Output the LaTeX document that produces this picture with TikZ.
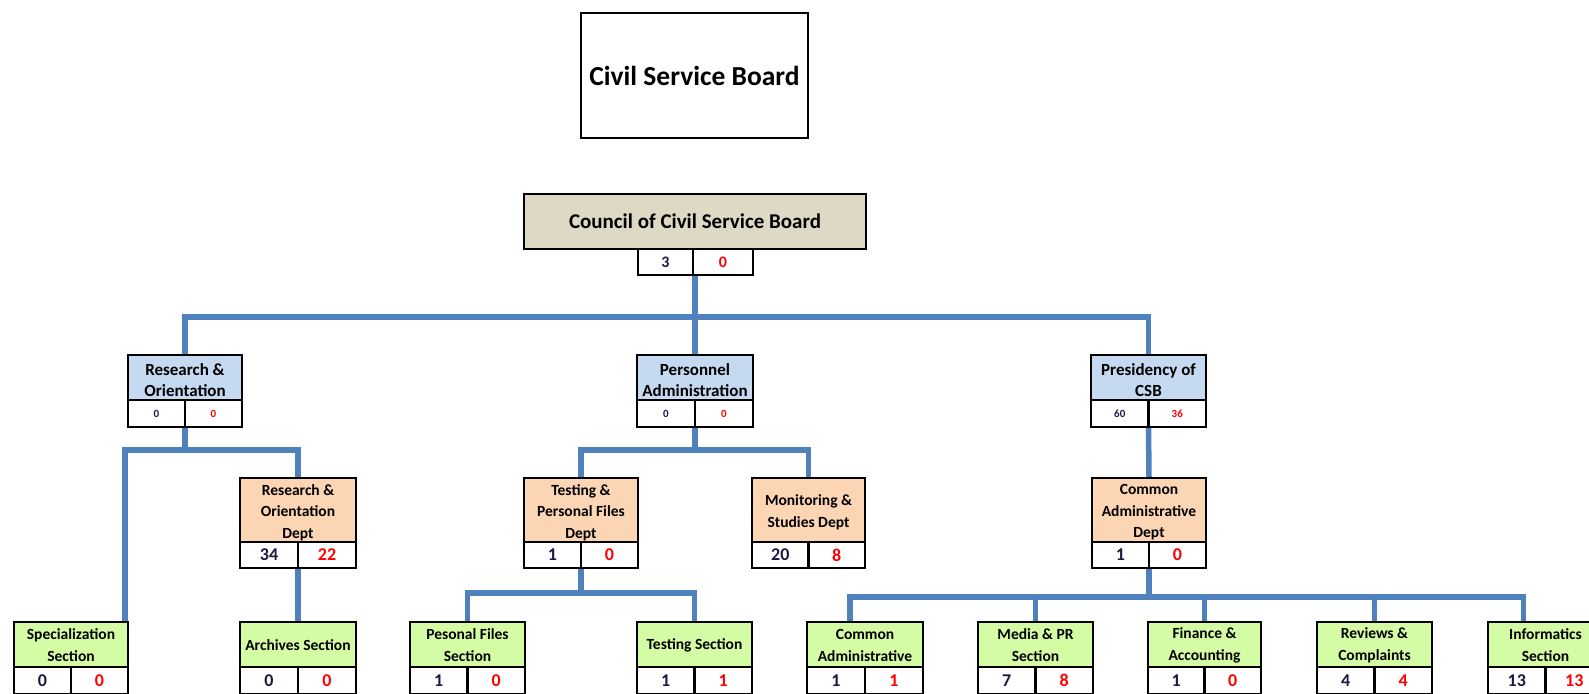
\documentclass[tikz,border=0pt]{standalone}
\usepackage{fontspec}
\setmainfont{Carlito}
\usetikzlibrary{backgrounds}

\definecolor{linkblue}{HTML}{4F81BD}
\definecolor{boardtan}{HTML}{DDD9C4}
\definecolor{unitblue}{HTML}{C5D9F1}
\definecolor{deptorange}{HTML}{FCD5B4}
\definecolor{secgreen}{HTML}{D4FCA4}
\definecolor{numblue}{HTML}{1A1A45}
\definecolor{numred}{HTML}{FF0000}

\tikzset{
  x=1pt, y=-1pt,
  frame/.style={draw=black, line width=2.6pt, rectangle, inner sep=0pt, outer sep=0pt},
  conn/.style={draw=linkblue, line width=5.5pt},
  % one style family per level of the chart
  Abox/.style={frame, fill=unitblue},
  Atxt/.style={align=center, inner sep=0pt, yshift=-2.5pt, font=\bfseries\fontsize{17}{21}\selectfont},
  Acell/.style={frame, fill=white, minimum height=27, font=\bfseries\fontsize{11}{12}\selectfont},
  Bbox/.style={frame, fill=deptorange},
  Btxt/.style={align=center, inner sep=0pt, yshift=-2.5pt, font=\bfseries\fontsize{15.5}{21.5}\selectfont},
  Bcell/.style={frame, fill=white, minimum height=26, font=\bfseries\fontsize{18}{20}\selectfont},
  Cbox/.style={frame, fill=secgreen},
  Ctxt/.style={align=center, inner sep=0pt, yshift=-1pt, font=\bfseries\fontsize{15.5}{22}\selectfont},
  Ccell/.style={frame, fill=white, minimum height=27, font=\bfseries\fontsize{18}{20}\selectfont},
}

% #1 level, #2 name, #3 left x, #4 top y, #5 width, #6 text height, #7 label, #8 left number, #9 right number
\newcommand\orgunit[9]{%
  \node[#1box, minimum width=#5, minimum height=#6, anchor=north west] (#2) at (#3,#4) {};
  \node[#1txt] (#2-t) at (#2.center) {#7};
  \node[#1cell, minimum width=#5/2, anchor=north west] (#2-a) at (#2.south west) {\color{numblue}#8};
  \node[#1cell, minimum width=#5/2, anchor=north east] (#2-b) at (#2.south east) {\color{numred}#9};
}

\begin{document}
\begin{tikzpicture}
\path[use as bounding box, clip] (0,0) rectangle (1589,693);

% title box
\node[frame, fill=white, minimum width=227, minimum height=125, anchor=north west,
      font=\bfseries\fontsize{27.5}{30}\selectfont] (csb) at (581,13) {Civil Service Board};

% council with its own narrow number row
\node[frame, fill=boardtan, minimum width=342, minimum height=55, anchor=north west,
      font=\bfseries\fontsize{21}{24}\selectfont] (council) at (524,194) {Council of Civil Service Board};
\node[frame, fill=white, minimum width=55, minimum height=26, anchor=north west,
      font=\bfseries\fontsize{16}{18}\selectfont] (council-a) at (638,249) {\color{numblue}3};
\node[frame, fill=white, minimum width=60, minimum height=26, anchor=north west,
      font=\bfseries\fontsize{16}{18}\selectfont] (council-b) at (693,249) {\color{numred}0};

% top-level units
\orgunit{A}{ro}{128}{355}{114}{45}{Research \&\\Orientation}{0}{0}
\orgunit{A}{pa}{637}{355}{116}{45}{Personnel\\Administration}{0}{0}
\orgunit{A}{pres}{1091}{355}{115}{45}{Presidency of\\CSB}{60}{36}

% departments
\orgunit{B}{rod}{240}{478}{116}{64}{Research \&\\Orientation\\Dept}{34}{22}
\orgunit{B}{tpd}{524}{478}{114}{64}{Testing \&\\Personal Files\\Dept}{1}{0}
\orgunit{B}{msd}{752}{478}{113}{64}{Monitoring \&\\Studies Dept}{20}{8}
\orgunit{B}{cad}{1092}{478}{114}{64}{Common\\Administrative\\Dept}{1}{0}

% sections
\orgunit{C}{spec}{14}{622}{114}{45}{Specialization\\Section}{0}{0}
\orgunit{C}{arch}{240}{622}{116}{45}{Archives Section}{0}{0}
\orgunit{C}{pfs}{410}{622}{115}{45}{Pesonal Files\\Section}{1}{0}
\orgunit{C}{ts}{637}{622}{115}{45}{Testing Section}{1}{1}
\orgunit{C}{cas}{807}{622}{116}{45}{Common\\Administrative}{1}{1}
\orgunit{C}{mpr}{978}{622}{115}{45}{Media \& PR\\Section}{7}{8}
\orgunit{C}{fin}{1148}{622}{113}{45}{Finance \&\\Accounting}{1}{0}
\orgunit{C}{rev}{1317}{622}{115}{45}{Reviews \&\\Complaints}{4}{4}
\orgunit{C}{inf}{1488}{622}{115}{45}{Informatics\\Section}{13}{13}

% junction points of the connector bars
\coordinate (j-top) at (697,317);
\coordinate (j-ro) at (185,450);
\coordinate (j-pa) at (697,450);
\coordinate (j-tpd) at (581,593);
\coordinate (j-cad) at (1149,597);

\begin{scope}[on background layer]
  \fill[white] (0,0) rectangle (1589,693);

  \draw[conn] (pa.north |- council-a.south) -- (pa.north);
  \draw[conn] (ro.north) |- (j-top) -| (pres.north);

  \draw[conn] (ro-a.south east) -- (j-ro);
  \draw[conn] ([xshift=-3pt]spec.north east) |- (j-ro) -| (rod.north);
  \draw[conn] (rod-a.south east) -- (arch.north);

  \draw[conn] (pa-a.south east) -- (pa-a.south east |- j-pa);
  \draw[conn] (tpd.north) |- (j-pa) -| (msd.north);

  \draw[conn] (pres-a.south east) -- (cad.north);

  \draw[conn] (tpd-a.south east) -- (j-tpd);
  \draw[conn] (pfs.north) |- (j-tpd) -| (ts.north);

  \draw[conn] (cad-a.south east) -- (cad-a.south east |- j-cad);
  \draw[conn] ([xshift=-15pt]cas.north) |- (j-cad) -| ([xshift=-22pt]inf.north);
  \draw[conn] (mpr.north) -- (mpr.north |- j-cad);
  \draw[conn] (fin.north) -- (fin.north |- j-cad);
  \draw[conn] (rev.north) -- (rev.north |- j-cad);
\end{scope}
\end{tikzpicture}
\end{document}
